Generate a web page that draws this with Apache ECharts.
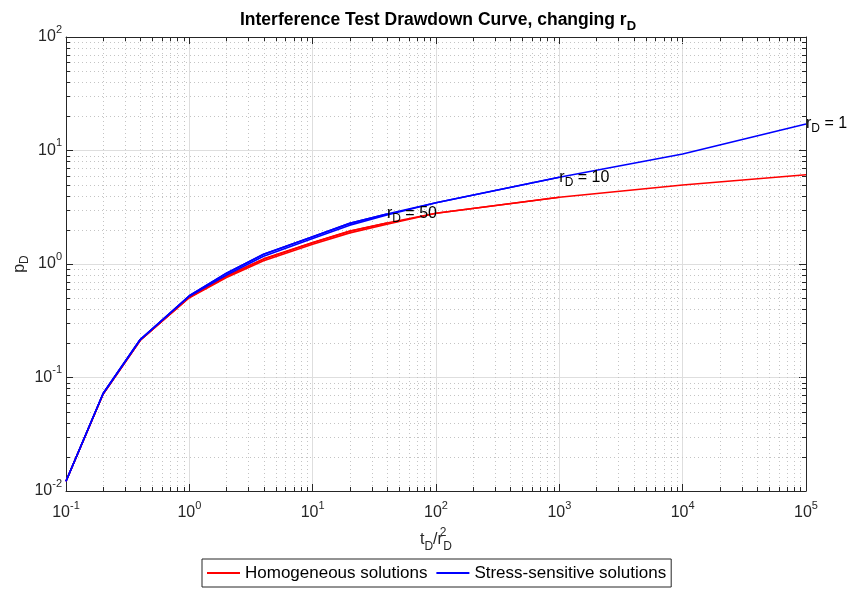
<!DOCTYPE html>
<html>
<head>
<meta charset="utf-8">
<script src="https://cdn.jsdelivr.net/npm/echarts@6/dist/echarts.min.js"></script>
<style>
  html, body { margin: 0; padding: 0; background: #fff; }
  #chart { width: 850px; height: 589px; }
</style>
</head>
<body>
<div id="chart"></div>
<script>
// Dimensionless time t_D / r_D^2 shared by all curves
const tDOverRD2 = [0.1, 0.2, 0.4, 1, 2, 4, 10, 20, 40, 100, 1000, 10000, 100000];

// Homogeneous reservoir, dimensionless pressure p_D
const homogeneousRD1  = [0.0122, 0.0715, 0.213, 0.505, 0.76, 1.07, 1.49, 1.88, 2.24, 2.80, 3.87, 4.97, 6.12];
const homogeneousRD10 = [0.0122, 0.0715, 0.213, 0.51, 0.78, 1.10, 1.54, 1.94, 2.30, 2.80, 3.87];
const homogeneousRD50 = [0.0122, 0.0715, 0.213, 0.51, 0.785, 1.11, 1.55, 1.95, 2.30];

// Stress-sensitive reservoir, dimensionless pressure p_D
const stressRD1  = [0.0122, 0.0722, 0.216, 0.52, 0.80, 1.17, 1.68, 2.20, 2.70, 3.47, 5.81, 9.31, 17.1];
const stressRD10 = [0.0122, 0.0722, 0.216, 0.525, 0.83, 1.22, 1.74, 2.28, 2.76, 3.47, 5.81];
const stressRD50 = [0.0122, 0.0722, 0.216, 0.525, 0.83, 1.22, 1.74, 2.28, 2.76];

const curveLabels = { rd1: '1', rd10: '10', rd50: '50' };
const legendNames = ['Homogeneous solutions', 'Stress-sensitive solutions'];

const xMin = 0.1, xMax = 1e5, yMin = 0.01, yMax = 100;

// minor grid positions (2..9 within each decade)
const minorItems = [];
for (let d = -1; d < 5; d++) for (let k = 2; k <= 9; k++) minorItems.push([k * Math.pow(10, d), 1, 0]);
for (let d = -2; d < 2; d++) for (let k = 2; k <= 9; k++) minorItems.push([1, k * Math.pow(10, d), 1]);

const FONT = '"Liberation Sans", Arial, Helvetica, sans-serif';
const AXIS = '#262626';

function pairs(ys) { return ys.map((y, i) => [tDOverRD2[i], y]); }

function powLabel(v) {
  const e = Math.round(Math.log10(v));
  return '{b|10}{e|' + e + '}';
}
const tickRich = {
  b: { fontFamily: FONT, fontSize: 16, color: AXIS, lineHeight: 26, verticalAlign: 'middle' },
  e: { fontFamily: FONT, fontSize: 11, color: AXIS, lineHeight: 11, verticalAlign: 'top' }
};

const endRich = {
  r: { fontFamily: FONT, fontSize: 16, color: '#000', lineHeight: 22 },
  s: { fontFamily: FONT, fontSize: 12, color: '#000', lineHeight: 8, verticalAlign: 'bottom' }
};
function endLabel(txt) {
  return {
    show: true, distance: 0, align: 'left', verticalAlign: 'middle',
    formatter: '{r|r}{s|D}{r| = ' + txt + '}', rich: endRich
  };
}

function lineSeries(name, ys, color, label) {
  const s = {
    name: name, type: 'line', data: pairs(ys), showSymbol: false, symbol: 'none',
    lineStyle: { color: color, width: 1.6 }, itemStyle: { color: color },
    z: color === '#0000ff' ? 4 : 3, animation: false
  };
  if (label) s.endLabel = endLabel(label);
  return s;
}

function minorRender(params, api) {
  const cs = params.coordSys;
  const kind = api.value(2);
  const st = { stroke: '#c4c4c4', lineWidth: 1, lineDash: [1, 3] };
  const tk = { stroke: AXIS, lineWidth: 1 };
  const L = 4;
  if (kind === 0) {
    const px = Math.round(api.coord([api.value(0), 1])[0]) + 0.5;
    const y0 = cs.y, y1 = cs.y + cs.height;
    return { type: 'group', children: [
      { type: 'line', shape: { x1: px, y1: y0, x2: px, y2: y1 }, style: st },
      { type: 'line', shape: { x1: px, y1: y1, x2: px, y2: y1 - L }, style: tk },
      { type: 'line', shape: { x1: px, y1: y0, x2: px, y2: y0 + L }, style: tk }
    ]};
  } else {
    const py = Math.round(api.coord([1, api.value(1)])[1]) + 0.5;
    const x0 = cs.x, x1 = cs.x + cs.width;
    return { type: 'group', children: [
      { type: 'line', shape: { x1: x0, y1: py, x2: x1, y2: py }, style: st },
      { type: 'line', shape: { x1: x0, y1: py, x2: x0 + L, y2: py }, style: tk },
      { type: 'line', shape: { x1: x1, y1: py, x2: x1 - L, y2: py }, style: tk }
    ]};
  }
}

const chart = echarts.init(document.getElementById('chart'), null, { renderer: 'canvas' });
chart.setOption({
  backgroundColor: '#fff',
  animation: false,
  title: {
    text: 'Interference Test Drawdown Curve, changing r{d|D}',
    left: 433, textAlign: 'center', top: 2,
    textStyle: {
      fontFamily: FONT, fontWeight: 'bold', fontSize: 17.5, color: '#000', lineHeight: 26,
      rich: { d: { fontFamily: FONT, fontWeight: 'bold', fontSize: 13, color: '#000', lineHeight: 8, verticalAlign: 'bottom' } }
    }
  },
  grid: { left: 66, right: 44, top: 37, bottom: 98, containLabel: false, outerBoundsMode: 'none' },
  legend: {
    data: legendNames,
    left: 202, top: 559,
    orient: 'horizontal',
    icon: 'rect', itemWidth: 33, itemHeight: 2, itemGap: 9,
    padding: [4, 5, 4, 5],
    borderColor: AXIS, borderWidth: 1, borderRadius: 0,
    textStyle: { fontFamily: FONT, fontSize: 17, color: '#000', lineHeight: 20 }
  },
  xAxis: [{
    type: 'log', logBase: 10, min: xMin, max: xMax, position: 'bottom',
    name: '{n|t}{s|D}{n|/r}{p|2}{s|D}', nameLocation: 'middle', nameGap: 36, nameMoveOverlap: false,
    nameTextStyle: {
      rich: {
        n: { fontFamily: FONT, fontSize: 16, color: AXIS, lineHeight: 26 },
        s: { fontFamily: FONT, fontSize: 12, color: AXIS, lineHeight: 8, verticalAlign: 'bottom' },
        p: { fontFamily: FONT, fontSize: 12, color: AXIS, lineHeight: 10, verticalAlign: 'top', width: 0.5 }
      }
    },
    axisLine: { show: true, lineStyle: { color: AXIS, width: 1 } },
    axisTick: { show: true, inside: true, length: 7, lineStyle: { color: AXIS } },
    axisLabel: { show: true, margin: 9, formatter: powLabel, rich: tickRich },
    splitLine: { show: true, lineStyle: { color: '#dedede', width: 1 } },
    minorTick: { show: false }, minorSplitLine: { show: false }
  }, {
    type: 'log', logBase: 10, min: xMin, max: xMax, position: 'top',
    axisLine: { show: true, lineStyle: { color: AXIS, width: 1 } },
    axisTick: { show: true, inside: true, length: 7, lineStyle: { color: AXIS } },
    axisLabel: { show: false }, splitLine: { show: false }
  }],
  yAxis: [{
    type: 'log', logBase: 10, min: yMin, max: yMax, position: 'left',
    name: '{n|p}{s|D}', nameLocation: 'middle', nameGap: 35, nameRotate: 90, nameMoveOverlap: false,
    nameTextStyle: {
      rich: {
        n: { fontFamily: FONT, fontSize: 16, color: AXIS, lineHeight: 22 },
        s: { fontFamily: FONT, fontSize: 12, color: AXIS, lineHeight: 8, verticalAlign: 'bottom' }
      }
    },
    axisLine: { show: true, lineStyle: { color: AXIS, width: 1 } },
    axisTick: { show: true, inside: true, length: 7, lineStyle: { color: AXIS } },
    axisLabel: { show: true, margin: 4, formatter: powLabel, rich: tickRich },
    splitLine: { show: true, lineStyle: { color: '#dedede', width: 1 } }
  }, {
    type: 'log', logBase: 10, min: yMin, max: yMax, position: 'right',
    axisLine: { show: true, lineStyle: { color: AXIS, width: 1 } },
    axisTick: { show: true, inside: true, length: 7, lineStyle: { color: AXIS } },
    axisLabel: { show: false }, splitLine: { show: false }
  }],
  series: [
    {
      type: 'custom', name: 'minor', xAxisIndex: 0, yAxisIndex: 0,
      data: minorItems, renderItem: minorRender, silent: true, z: 1, clip: false
    },
    lineSeries(legendNames[0], homogeneousRD1, '#ff0000'),
    lineSeries(legendNames[0], homogeneousRD10, '#ff0000'),
    lineSeries(legendNames[0], homogeneousRD50, '#ff0000'),
    lineSeries(legendNames[1], stressRD1, '#0000ff', curveLabels.rd1),
    lineSeries(legendNames[1], stressRD10, '#0000ff', curveLabels.rd10),
    lineSeries(legendNames[1], stressRD50, '#0000ff', curveLabels.rd50)
  ]
});
</script>
</body>
</html>
